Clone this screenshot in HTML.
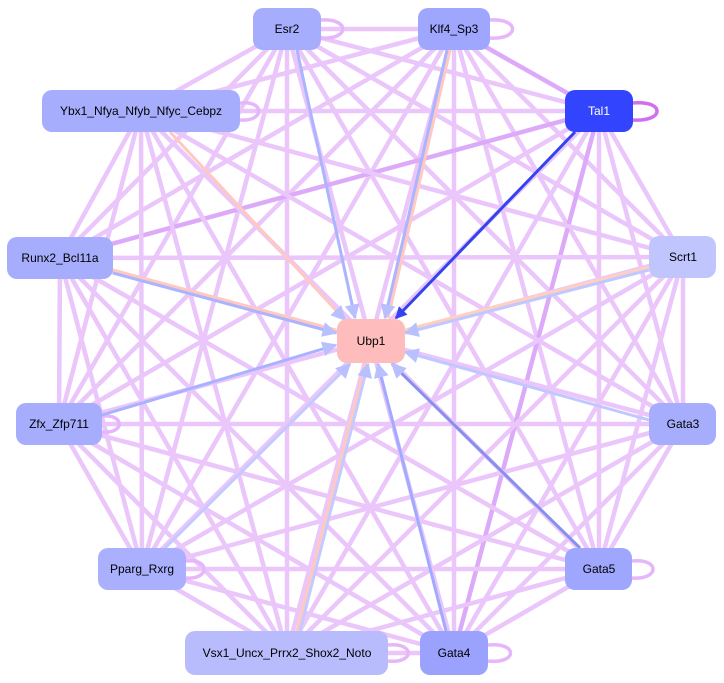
<!DOCTYPE html>
<html><head><meta charset="utf-8"><style>
html,body{margin:0;padding:0;background:#fff;width:724px;height:683px;overflow:hidden}
svg text{font-family:"Liberation Sans",sans-serif;font-size:12px;text-anchor:middle;dominant-baseline:central}
</style></head><body>
<svg width="724" height="683" viewBox="0 0 724 683" xmlns="http://www.w3.org/2000/svg">
<defs>
<marker id="b" markerWidth="5" markerHeight="5" refX="4.5" refY="2.5" orient="auto" markerUnits="strokeWidth"><path d="M0,0L5,2.5L0,5z" fill="#b8c0ff"/></marker>
<marker id="c" markerWidth="4" markerHeight="4" refX="3.5" refY="2" orient="auto" markerUnits="strokeWidth"><path d="M0,0L4,2L0,4z" fill="#3344ee"/></marker>
</defs>
<g stroke="#eac6fb" stroke-width="4.5">
<line x1="287" y1="29" x2="454" y2="29"/><line x1="287" y1="29" x2="599" y2="111"/><line x1="287" y1="29" x2="141" y2="111"/><line x1="287" y1="29" x2="60" y2="258"/><line x1="287" y1="29" x2="683" y2="257"/><line x1="287" y1="29" x2="59" y2="424"/><line x1="287" y1="29" x2="683" y2="424"/><line x1="287" y1="29" x2="142" y2="569"/><line x1="287" y1="29" x2="599" y2="569"/><line x1="287" y1="29" x2="287" y2="653"/><line x1="287" y1="29" x2="454" y2="653"/>
<line x1="454" y1="29" x2="599" y2="111" stroke="#dcaaf8"/><line x1="454" y1="29" x2="141" y2="111"/><line x1="454" y1="29" x2="60" y2="258"/><line x1="454" y1="29" x2="683" y2="257"/><line x1="454" y1="29" x2="59" y2="424"/><line x1="454" y1="29" x2="683" y2="424"/><line x1="454" y1="29" x2="142" y2="569"/><line x1="454" y1="29" x2="599" y2="569"/><line x1="454" y1="29" x2="287" y2="653"/><line x1="454" y1="29" x2="454" y2="653"/>
<line x1="599" y1="111" x2="141" y2="111"/><line x1="599" y1="111" x2="60" y2="258" stroke="#dcaaf8"/><line x1="599" y1="111" x2="683" y2="257"/><line x1="599" y1="111" x2="59" y2="424"/><line x1="599" y1="111" x2="683" y2="424"/><line x1="599" y1="111" x2="142" y2="569"/><line x1="599" y1="111" x2="599" y2="569"/><line x1="599" y1="111" x2="287" y2="653"/><line x1="599" y1="111" x2="454" y2="653" stroke="#dcaaf8"/>
<line x1="141" y1="111" x2="60" y2="258"/><line x1="141" y1="111" x2="683" y2="257"/><line x1="141" y1="111" x2="59" y2="424"/><line x1="141" y1="111" x2="683" y2="424"/><line x1="141" y1="111" x2="142" y2="569"/><line x1="141" y1="111" x2="599" y2="569"/><line x1="141" y1="111" x2="287" y2="653"/><line x1="141" y1="111" x2="454" y2="653"/>
<line x1="60" y1="258" x2="683" y2="257"/><line x1="60" y1="258" x2="59" y2="424"/><line x1="60" y1="258" x2="683" y2="424"/><line x1="60" y1="258" x2="142" y2="569"/><line x1="60" y1="258" x2="599" y2="569"/><line x1="60" y1="258" x2="287" y2="653"/><line x1="60" y1="258" x2="454" y2="653"/>
<line x1="683" y1="257" x2="59" y2="424"/><line x1="683" y1="257" x2="683" y2="424"/><line x1="683" y1="257" x2="142" y2="569"/><line x1="683" y1="257" x2="599" y2="569"/><line x1="683" y1="257" x2="287" y2="653"/><line x1="683" y1="257" x2="454" y2="653"/>
<line x1="59" y1="424" x2="683" y2="424"/><line x1="59" y1="424" x2="142" y2="569"/><line x1="59" y1="424" x2="599" y2="569"/><line x1="59" y1="424" x2="287" y2="653"/><line x1="59" y1="424" x2="454" y2="653"/>
<line x1="683" y1="424" x2="142" y2="569"/><line x1="683" y1="424" x2="599" y2="569"/><line x1="683" y1="424" x2="287" y2="653"/><line x1="683" y1="424" x2="454" y2="653"/>
<line x1="142" y1="569" x2="599" y2="569"/><line x1="142" y1="569" x2="287" y2="653"/><line x1="142" y1="569" x2="454" y2="653"/>
<line x1="599" y1="569" x2="287" y2="653"/><line x1="599" y1="569" x2="454" y2="653"/>
<line x1="287" y1="653" x2="454" y2="653"/>
</g>
<g fill="none" stroke="#e6b6fa" stroke-width="3.5">
<path d="M321,20 C350,18 350,40 321,38"/><path d="M490,20 C520,18 520,40 490,38"/>
<path d="M633,103 C665,100 665,122 633,120" stroke="#d070f0"/>
<path d="M240,103 C265,100 265,122 240,120"/><path d="M102,416 C125,414 125,434 102,432"/>
<path d="M186,561 C210,558 210,580 186,578"/><path d="M632,561 C660,558 660,580 632,578"/>
<path d="M388,645 C415,642 415,664 388,661"/><path d="M488,645 C518,642 518,664 488,661"/>
</g>
<g stroke-width="3">
<line x1="297" y1="50" x2="355" y2="318" stroke="#aab4ff" marker-end="url(#b)"/>
<line x1="450" y1="50" x2="388" y2="318" stroke="#ffc8c0"/><line x1="447" y1="50" x2="385" y2="318" stroke="#aab4ff" marker-end="url(#b)"/>
<line x1="575" y1="132" x2="396" y2="318" stroke="#3344ee" marker-end="url(#c)"/>
<line x1="170" y1="132" x2="345" y2="320" stroke="#ffc8c0" marker-end="url(#b)"/>
<line x1="113" y1="270" x2="336" y2="330" stroke="#ffc8c0"/><line x1="113" y1="273" x2="336" y2="333" stroke="#aab4ff" marker-end="url(#b)"/>
<line x1="649" y1="267" x2="405" y2="330" stroke="#ffd0c0"/><line x1="649" y1="270" x2="405" y2="333" stroke="#c0c8ff" marker-end="url(#b)"/>
<line x1="102" y1="415" x2="336" y2="345" stroke="#a8b2ff" marker-end="url(#b)"/>
<line x1="649" y1="420" x2="405" y2="352" stroke="#c0c8ff" marker-end="url(#b)"/>
<line x1="165" y1="548" x2="350" y2="364" stroke="#c4caff" marker-end="url(#b)"/>
<line x1="297" y1="631" x2="365" y2="364" stroke="#ffc8c0"/><line x1="300" y1="631" x2="368" y2="364" stroke="#c4caff" marker-end="url(#b)"/>
<line x1="446" y1="631" x2="378" y2="364" stroke="#a0aaff" marker-end="url(#b)"/>
<line x1="580" y1="548" x2="392" y2="364" stroke="#8890ee" marker-end="url(#b)"/>
</g>
<g>
<rect x="253" y="8" width="68" height="42" rx="10" fill="#a6adfd"/><text x="287" y="29">Esr2</text>
<rect x="418" y="8" width="72" height="42" rx="10" fill="#9ea6fd"/><text x="454" y="29">Klf4_Sp3</text>
<rect x="565" y="90" width="68" height="42" rx="10" fill="#3344ff"/><text x="599" y="111" fill="#fff">Tal1</text>
<rect x="42" y="90" width="198" height="42" rx="10" fill="#a6adfd"/><text x="141" y="111">Ybx1_Nfya_Nfyb_Nfyc_Cebpz</text>
<rect x="7" y="237" width="106" height="42" rx="10" fill="#a6adfd"/><text x="60" y="258">Runx2_Bcl11a</text>
<rect x="649" y="236" width="67" height="42" rx="10" fill="#c0c6fd"/><text x="683" y="257">Scrt1</text>
<rect x="337" y="319" width="68" height="44" rx="10" fill="#ffbcbc"/><text x="371" y="341">Ubp1</text>
<rect x="16" y="403" width="86" height="42" rx="10" fill="#a6adfd"/><text x="59" y="424">Zfx_Zfp711</text>
<rect x="649" y="403" width="67" height="42" rx="10" fill="#a6adfd"/><text x="683" y="424">Gata3</text>
<rect x="98" y="548" width="88" height="42" rx="10" fill="#aab0fd"/><text x="142" y="569">Pparg_Rxrg</text>
<rect x="565" y="548" width="67" height="42" rx="10" fill="#9ea6fd"/><text x="599" y="569">Gata5</text>
<rect x="185" y="631" width="203" height="44" rx="10" fill="#b8bcfd"/><text x="287" y="653">Vsx1_Uncx_Prrx2_Shox2_Noto</text>
<rect x="420" y="631" width="68" height="44" rx="10" fill="#9aa2fd"/><text x="454" y="653">Gata4</text>
</g>
</svg>
</body></html>
